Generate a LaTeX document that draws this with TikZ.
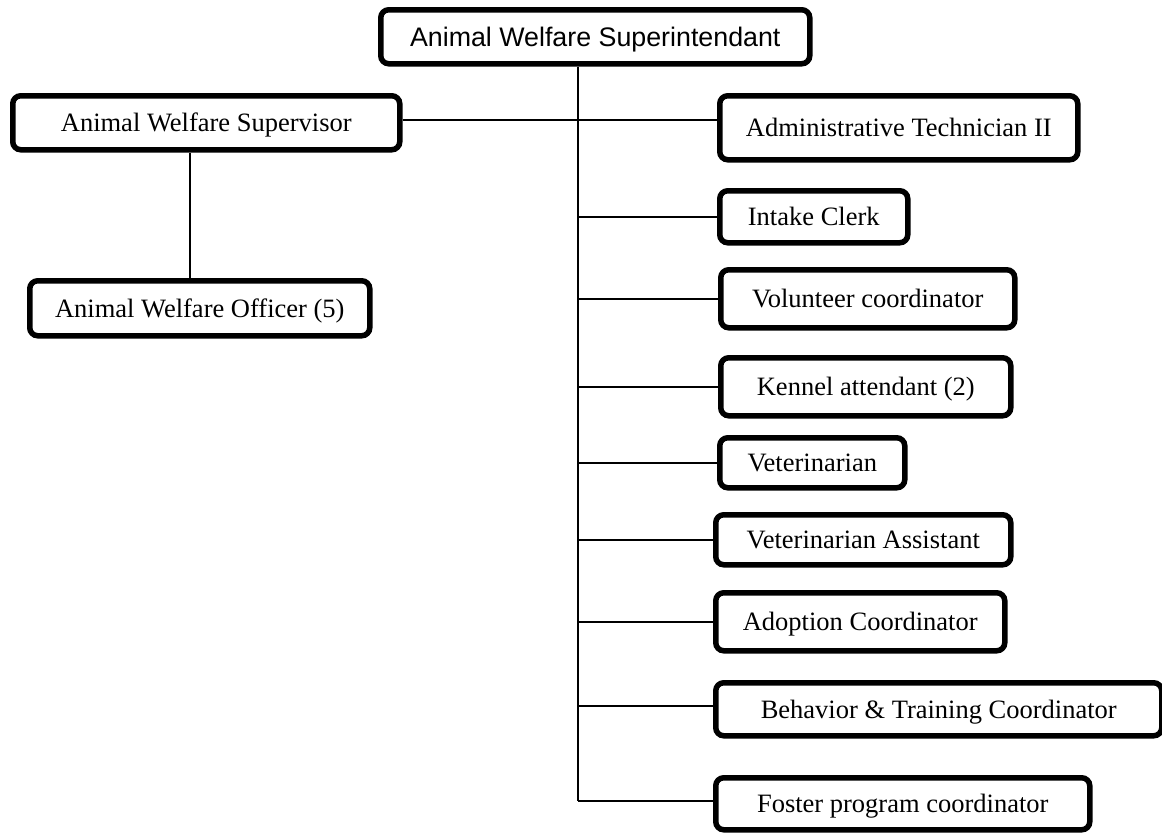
\documentclass[tikz,border=0pt]{standalone}
\usepackage{fontspec}
\setmainfont{Liberation Serif}
\newfontfamily\headfont{Liberation Sans}

\begin{document}
\begin{tikzpicture}[x=1pt, y=-1pt,
    role/.style={draw, line width=5.5pt, rounded corners=8pt, anchor=north west,
      inner sep=0pt, text height=17.5pt, text depth=0pt,
      font=\fontsize{26.5}{30}\selectfont},
    link/.style={line width=1.6pt}]
    \useasboundingbox (0,0) rectangle (1162,833);

    % Head of the shelter
    \node[role, font=\headfont\fontsize{26.8}{30}\selectfont, text height=19pt,
      minimum width=429pt, minimum height=54pt] (super) at (378,7) {Animal Welfare Superintendant};

    % Field staff
    \node[role, minimum width=387pt, minimum height=54pt] (supervisor) at (10,93) {Animal Welfare Supervisor};
    \node[role, minimum width=340pt, minimum height=55pt] (officer) at (27,278) {Animal Welfare Officer (5)};

    % Shelter staff
    \node[role, minimum width=358pt, minimum height=64pt] (admin) at (717,93) {Administrative Technician II};
    \node[role, minimum width=188pt, minimum height=52pt] (intake) at (717,188) {Intake Clerk};
    \node[role, minimum width=294pt, minimum height=58pt] (volunteer) at (718,267) {Volunteer coordinator};
    \node[role, minimum width=290pt, minimum height=58pt] (kennel) at (718,355) {Kennel attendant (2)};
    \node[role, minimum width=185pt, minimum height=50pt] (vet) at (717,435) {Veterinarian};
    \node[role, minimum width=295pt, minimum height=50pt] (vetassist) at (713,512) {Veterinarian Assistant};
    \node[role, minimum width=289pt, minimum height=58pt] (adoption) at (713,590) {Adoption Coordinator};
    \node[role, minimum width=446pt, minimum height=53pt] (behavior) at (713,680) {Behavior \& Training Coordinator};
    \node[role, minimum width=374pt, minimum height=52pt] (foster) at (713,775) {Foster program coordinator};

    % Reporting lines
    \coordinate (trunk) at (578,0);
    \draw[link] (super.south -| trunk) -- ([yshift=3pt]trunk |- foster.west);
    \draw[link] ([yshift=3pt]supervisor.east) -- ([yshift=3pt]supervisor.east -| admin.west);
    \draw[link] ([xshift=-10pt]officer.north) -- ([xshift=-10pt]officer.north |- supervisor.south);
    \foreach \role in {intake, volunteer, kennel, vet, vetassist, adoption}
      \draw[link] (trunk |- \role.west) -- (\role.west);
    \foreach \role in {behavior, foster}
      \draw[link] ([yshift=3pt]trunk |- \role.west) -- ([yshift=3pt]\role.west);
  \end{tikzpicture}
\end{document}
